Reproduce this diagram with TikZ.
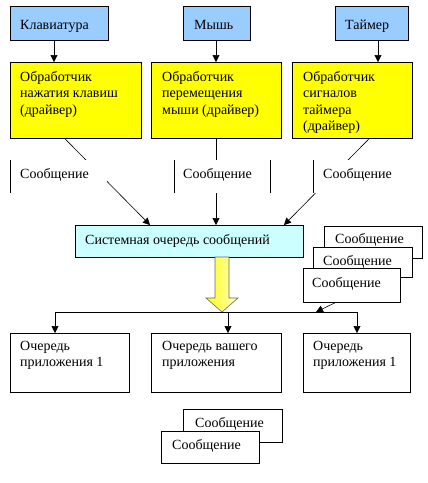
\documentclass[tikz,border=0pt]{standalone}
\usepackage{fontspec}
\setmainfont{Liberation Serif}
\usetikzlibrary{arrows.meta}
\newcommand\dfont{\fontsize{14}{16.5}\selectfont}
\definecolor{dblue}{HTML}{99CCFF}
\definecolor{dyellow}{HTML}{FFFF00}
\definecolor{dcyan}{HTML}{CCFFFF}
\begin{document}
\begin{tikzpicture}[x=1pt,y=-1pt,
  box/.style={draw=black,line width=0.8pt,inner sep=0pt,anchor=north west},
  txt/.style={inner sep=0pt,font=\dfont,align=left,anchor=north west},
  btxt/.style={inner sep=0pt,font=\dfont,anchor=base west},
  arr/.style={-{Triangle[width=7pt,length=7pt]},line width=0.6pt},
  wipe/.style={fill=white,draw=none,inner sep=0pt,anchor=north west},
  edge line/.style={line width=0.8pt}]
\useasboundingbox[fill=white] (0,0) rectangle (428,483);

% input devices
\node[box,fill=dblue,minimum width=98pt,minimum height=34pt] (kb) at (10,6) {};
\node[box,fill=dblue,minimum width=67pt,minimum height=34pt] (ms) at (183,6) {};
\node[box,fill=dblue,minimum width=73pt,minimum height=34pt] (tm) at (335,6) {};
\node[btxt] (kbT) at (20,29) {Клавиатура};
\node[btxt] (msT) at (194,29) {Мышь};
\node[btxt] (tmT) at (345,29) {Таймер};

% drivers
\node[box,fill=dyellow,minimum width=131pt,minimum height=76pt] (kbd) at (10,62) {};
\node[box,fill=dyellow,minimum width=130pt,minimum height=76pt] (msd) at (151,62) {};
\node[box,fill=dyellow,minimum width=120pt,minimum height=76pt] (tmd) at (292,62) {};
\node[txt] (kbdT) at (20,71) {Обработчик\\нажатия клавиш\\(драйвер)};
\node[txt] (msdT) at (162,71) {Обработчик\\перемещения\\мыши (драйвер)};
\node[txt] (tmdT) at (303,71) {Обработчик\\сигналов\\таймера\\(драйвер)};

\coordinate (a1) at (54,40);
\coordinate (a2) at (216,40);
\coordinate (a3) at (378,40);
\draw[arr] (a1) -- (a1 |- kbd.north);
\draw[arr] (a2) -- (a2 |- msd.north);
\draw[arr] (a3) -- (a3 |- tmd.north);

% system queue
\node[box,fill=dcyan,minimum width=228pt,minimum height=32pt] (sq) at (75,225) {};
\node[btxt] (sqT) at (85,244) {Системная очередь сообщений};

\coordinate (c1s) at (65,138);
\coordinate (c1e) at (150,225);
\coordinate (c2s) at (216,138);
\coordinate (c3s) at (369,138);
\coordinate (c3e) at (284,225);
\draw[arr] (c1s |- kbd.south) -- (c1e |- sq.north);
\draw[arr] (c2s |- msd.south) -- (c2s |- sq.north);
\draw[arr] (c3s |- tmd.south) -- (c3e |- sq.north);

% message labels on the connectors
\node[wipe,minimum width=97pt,minimum height=33pt] (m1) at (10,160) {};
\draw[edge line] (m1.north west) -- (m1.south west);
\node[wipe,minimum width=96pt,minimum height=33pt] (m2) at (174,160) {};
\draw[edge line] (m2.north west) -- (m2.south west) (m2.north east) -- (m2.south east);
\node[wipe,minimum width=92pt,minimum height=33pt] (m3) at (313,160) {};
\draw[edge line] (m3.north west) -- (m3.south west);
\node[btxt] (m1T) at (20,178) {Сообщение};
\node[btxt] (m2T) at (183,178) {Сообщение};
\node[btxt] (m3T) at (323,178) {Сообщение};

% stack of messages (right)
\node[box,fill=white,minimum width=98pt,minimum height=32pt] (s1) at (324,226) {};
\node[btxt] (s1T) at (335,243) {Сообщение};
\node[box,fill=white,minimum width=99pt,minimum height=30pt] (s2) at (313,247) {};
\node[btxt] (s2T) at (323,265) {Сообщение};
\node[box,fill=white,minimum width=97pt,minimum height=34pt] (s3) at (303,268) {};
\node[btxt] (s3T) at (312,287) {Сообщение};

% big yellow arrow
\draw[line width=0.6pt,draw=black!60,left color=yellow!90,right color=yellow!25]
  (215,257) -- (229,257) -- (229,298) -- (238,298) -- (222,312) -- (206,298) -- (215,298) -- cycle;

% application queues
\node[box,minimum width=119pt,minimum height=59pt] (q1) at (10,333) {};
\node[box,minimum width=130pt,minimum height=59pt] (q2) at (151,333) {};
\node[box,minimum width=107pt,minimum height=59pt] (q3) at (303,333) {};
\node[txt] (q1T) at (20,341) {Очередь\\приложения 1};
\node[txt] (q2T) at (162,341) {Очередь вашего\\приложения};
\node[txt] (q3T) at (313,341) {Очередь\\приложения 1};

\coordinate (hl) at (55,312);
\coordinate (hm) at (228,312);
\coordinate (hr) at (357,312);
\coordinate (ht) at (316,312);
\draw[line width=0.8pt] (hl) -- (hr);
\draw[arr] (hl) -- (hl |- q1.north);
\draw[arr] (hm) -- (hm |- q2.north);
\draw[arr] (hr) -- (hr |- q3.north);
\coordinate (s3o) at (335,302);
\draw[arr] (s3o |- s3.south) -- (ht);

% bottom stack of messages
\node[box,fill=white,minimum width=99pt,minimum height=33pt] (b1) at (183,409) {};
\node[btxt] (b1T) at (195,427) {Сообщение};
\node[box,fill=white,minimum width=98pt,minimum height=32pt] (b2) at (161,431) {};
\node[btxt] (b2T) at (172,449) {Сообщение};
\end{tikzpicture}
\end{document}
